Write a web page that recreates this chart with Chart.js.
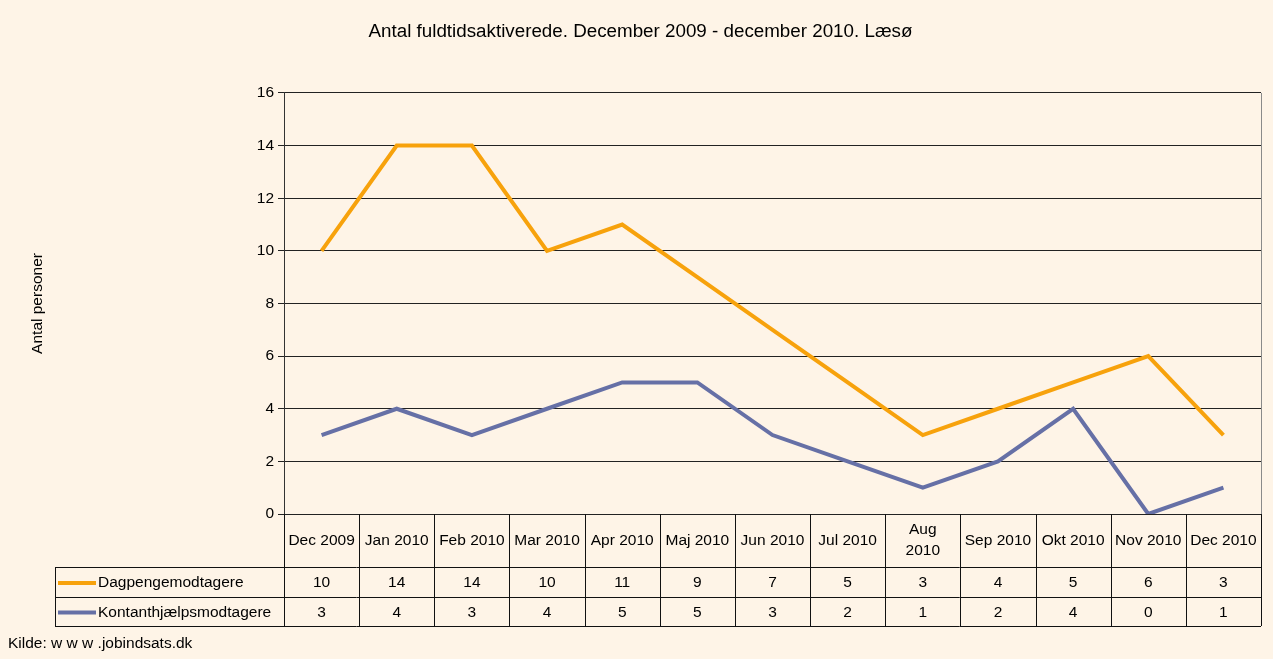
<!DOCTYPE html>
<html>
<head>
<meta charset="utf-8">
<script src="https://cdn.jsdelivr.net/npm/chart.js@4.4.1/dist/chart.umd.min.js"></script>
<style>
  html, body { margin: 0; padding: 0; background: #FEF4E7; }
  #wrap { width: 1273px; height: 659px; }
</style>
</head>
<body>
<div id="wrap"><canvas id="chart" width="1273" height="659"></canvas></div>
<script>
const categories = ["Dec 2009", "Jan 2010", "Feb 2010", "Mar 2010", "Apr 2010", "Maj 2010", "Jun 2010",
    "Jul 2010", ["Aug", "2010"], "Sep 2010", "Okt 2010", "Nov 2010", "Dec 2010"];
const dagpenge = [10, 14, 14, 10, 11, 9, 7, 5, 3, 4, 5, 6, 3];
const kontant = [3, 4, 3, 4, 5, 5, 3, 2, 1, 2, 4, 0, 1];
const seriesNames = ["Dagpengemodtagere", "Kontanthjælpsmodtagere"];
const seriesColors = ["#F7A20C", "#6670A6"];

const FONT = "'Liberation Sans', Arial, sans-serif";
const TABLE_FONT = "15.5px " + FONT;

// data table under the plot, drawn from the x scale
const dataTable = {
    id: "dataTable",
    afterDraw(chart) {
        const ctx = chart.ctx;
        const area = chart.chartArea;
        const xs = chart.scales.x;
        const colW = (area.right - area.left) / categories.length;
        const catTop = area.bottom, catBottom = area.bottom + 53;
        const rowH = [30, 29];
        const tableLeft = 55;
        const tableBottom = catBottom + rowH[0] + rowH[1];

        ctx.save();
        ctx.strokeStyle = "#111";
        ctx.lineWidth = 1;
        ctx.beginPath();
        // verticals of category columns
        for (let i = 0; i <= categories.length; i++) {
            const x = Math.round(area.left + i * colW) + 0.5;
            ctx.moveTo(x, catTop);
            ctx.lineTo(x, tableBottom);
        }
        // horizontals
        ctx.moveTo(tableLeft, catBottom + 0.5);
        ctx.lineTo(area.right, catBottom + 0.5);
        ctx.moveTo(tableLeft, catBottom + rowH[0] + 0.5);
        ctx.lineTo(area.right, catBottom + rowH[0] + 0.5);
        ctx.moveTo(tableLeft, tableBottom + 0.5);
        ctx.lineTo(area.right, tableBottom + 0.5);
        ctx.moveTo(tableLeft + 0.5, catBottom);
        ctx.lineTo(tableLeft + 0.5, tableBottom);
        ctx.stroke();

        // right border of plot
        ctx.strokeStyle = "#8a8a8a";
        ctx.beginPath();
        ctx.moveTo(Math.round(area.right) + 0.5, area.top);
        ctx.lineTo(Math.round(area.right) + 0.5, area.bottom);
        ctx.stroke();

        ctx.fillStyle = "#000";
        ctx.font = TABLE_FONT;
        ctx.textAlign = "center";
        ctx.textBaseline = "middle";
        categories.forEach((c, i) => {
            const x = xs.getPixelForValue(i);
            const lines = Array.isArray(c) ? c : [c];
            const mid = (catTop + catBottom) / 2;
            lines.forEach((t, k) => {
                ctx.fillText(t, x, mid + (k - (lines.length - 1) / 2) * 21);
            });
        });

        const rows = [dagpenge, kontant];
        let y = catBottom;
        rows.forEach((vals, r) => {
            const mid = y + rowH[r] / 2 + 1;
            vals.forEach((v, i) => {
                ctx.textAlign = "center";
                ctx.fillText(String(v), xs.getPixelForValue(i), mid);
            });
            ctx.strokeStyle = seriesColors[r];
            ctx.lineWidth = 4;
            ctx.beginPath();
            ctx.moveTo(58, mid);
            ctx.lineTo(96, mid);
            ctx.stroke();
            ctx.textAlign = "left";
            ctx.fillText(seriesNames[r], 98, mid);
            y += rowH[r];
        });

        ctx.font = TABLE_FONT;
        ctx.textAlign = "left";
        ctx.fillText("Kilde: w w w .jobindsats.dk", 8, 644);
        ctx.restore();
    }
};

new Chart(document.getElementById("chart"), {
    type: "line",
    data: {
        labels: categories,
        datasets: [
            {
                label: seriesNames[0],
                data: dagpenge,
                borderColor: seriesColors[0],
                borderWidth: 4,
                pointRadius: 0,
                tension: 0,
            },
            {
                label: seriesNames[1],
                data: kontant,
                borderColor: seriesColors[1],
                borderWidth: 4,
                pointRadius: 0,
                tension: 0,
            },
        ],
    },
    options: {
        responsive: false,
        animation: false,
        devicePixelRatio: 1,
        layout: { padding: { left: 20, right: 12, top: 0, bottom: 145 } },
        scales: {
            x: {
                display: false,
                offset: true,
            },
            y: {
                min: 0,
                max: 16,
                afterFit: (scale) => { scale.width = 264; },
                ticks: {
                    stepSize: 2,
                    color: "#000",
                    font: { family: FONT, size: 15.5 },
                    padding: 4,
                },
                grid: {
                    color: "#222",
                    tickLength: 6,
                    drawTicks: true,
                },
                border: { color: "#333" },
                title: {
                    display: true,
                    text: "Antal personer",
                    color: "#000",
                    font: { family: FONT, size: 15.5 },
                    padding: { top: 8, bottom: 0 },
                },
            },
        },
        plugins: {
            legend: { display: false },
            tooltip: { enabled: false },
            title: {
                display: true,
                text: "Antal fuldtidsaktiverede. December 2009 - december 2010. Læsø",
                color: "#000",
                font: { family: FONT, size: 18.8, weight: "normal" },
                padding: { top: 20.7, bottom: 49.7 },
            },
        },
    },
    plugins: [dataTable],
});
</script>
</body>
</html>
